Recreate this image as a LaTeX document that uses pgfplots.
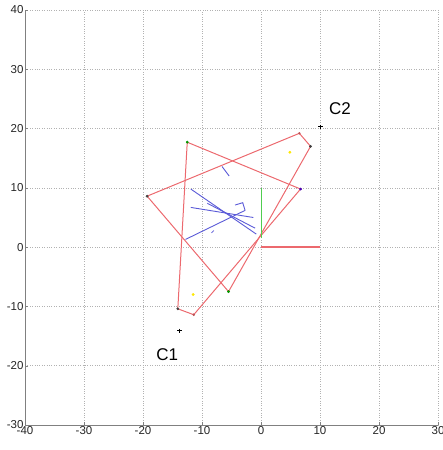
\documentclass[border=0pt]{standalone}
\usepackage{fontspec}
\setmainfont{Liberation Sans}
\usepackage{pgfplots}
\pgfplotsset{compat=1.18}
\definecolor{lred}{RGB}{236,105,110}
\definecolor{lblue}{RGB}{90,90,215}
\definecolor{lgreen}{RGB}{80,205,80}
\definecolor{axgray}{RGB}{128,128,128}
\begin{document}
\begin{tikzpicture}
\begin{axis}[
  set layers=standard,
  scale only axis, width=413pt, height=415pt,
  xmin=-40, xmax=30, ymin=-30, ymax=40,
  xtick={-40,-30,...,30}, ytick={-30,-20,...,40},
  axis lines*=left,
  axis line style={axgray, line width=0.9pt},
  grid=major,
  major grid style={dotted, gray!60, line width=0.5pt},
  tick align=inside, major tick length=3pt,
  tick style={axgray},
  tick label style={font=\fontsize{11.5}{12}\selectfont, text=black!85},
  /pgf/number format/assume math mode=true,
  xticklabel style={yshift=2pt},
  yticklabel style={xshift=2pt},
  clip=false,
]
% quadrilateral 1
\addplot[lred, line width=1pt] coordinates {(-12.5,17.7) (-14.1,-10.4) (-11.4,-11.4) (6.7,9.8) (-12.5,17.7)};
% quadrilateral 2
\addplot[lred, line width=1pt] coordinates {(-19.3,8.6) (6.5,19.2) (8.4,17.0) (-5.5,-7.5) (-19.3,8.6)};
% frame axes
\addplot[draw=lred, line width=1.35pt] coordinates {(0,0.05) (10,0.05)};
\addplot[draw=lgreen, line width=1.35pt] coordinates {(0.05,1.5) (0.05,10)};
% blue segments
\addplot[lblue, line width=0.9pt] coordinates {(-11.9,9.8) (-0.8,2.2)};
\addplot[lblue, line width=0.9pt] coordinates {(-9.1,7.4) (-1.0,3.2)};
\addplot[lblue, line width=0.9pt] coordinates {(-11.9,6.7) (-1.3,5.0)};
\addplot[lblue, line width=0.9pt] coordinates {(-12.8,1.3) (-2.7,6.2)};
\addplot[lblue, line width=0.9pt] coordinates {(-4.4,7.1) (-3.1,7.5) (-2.7,6.2)};
\addplot[lblue, line width=0.9pt] coordinates {(-6.6,13.6) (-5.4,12.0)};
\addplot[lblue, line width=0.6pt] coordinates {(-8.4,2.4) (-8.0,2.8)};
% vertex markers
\addplot[only marks, mark=*, mark size=1.2pt, color=green!60!black] coordinates {(-12.5,17.7) (-5.5,-7.5)};
\addplot[only marks, mark=*, mark size=1.2pt, color=black!75] coordinates {(-19.3,8.6) (-14.1,-10.4) (8.4,17.0)};
\addplot[only marks, mark=*, mark size=1.2pt, color=blue!70!red] coordinates {(6.7,9.8)};
\addplot[only marks, mark=*, mark size=1pt, color=lred!80!black] coordinates {(6.5,19.2) (-11.4,-11.4)};
\addplot[only marks, mark=*, mark size=1.2pt, color=yellow!90!orange] coordinates {(4.9,16.0) (-11.5,-8.0)};
% C1, C2
\addplot[only marks, mark=+, mark size=2.2pt, black, line width=0.7pt] coordinates {(-13.8,-14.1) (10.1,20.3)};
\node[font=\fontsize{17}{18}\selectfont] at (axis cs:-15.9,-18.1) {C1};
\node[font=\fontsize{17}{18}\selectfont] at (axis cs:13.4,23.3) {C2};
\end{axis}
\pgfresetboundingbox
\path (-25pt,-25pt) rectangle (418pt,425pt);
\end{tikzpicture}
\end{document}
